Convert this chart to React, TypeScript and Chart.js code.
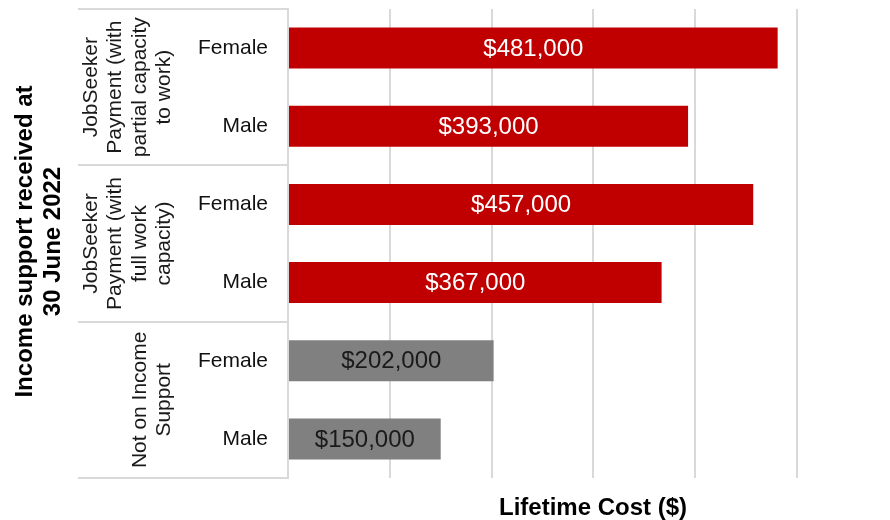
import React, { useEffect, useRef } from "react";
import { Chart, registerables } from "chart.js";

Chart.register(...registerables);

const categories = ["Female", "Male", "Female", "Male", "Female", "Male"];
const values = [481000, 393000, 457000, 367000, 202000, 150000];
const barGroup = [0, 0, 1, 1, 2, 2];
const groupLines = [
  ["JobSeeker", "Payment (with", "partial capacity", "to work)"],
  ["JobSeeker", "Payment (with", "full work", "capacity)"],
  ["Not on Income", "Support"],
];
const yTitleLines = ["Income support received at", "30 June 2022"];
const xTitle = "Lifetime Cost ($)";
const xMax = 500000;
const xStep = 100000;

const FONT = '"Liberation Sans", Arial, Helvetica, sans-serif';
const RED = "#C00000";
const GRAY = "#808080";
const GRID = "#d9d9d9";

const fmt = (v: number) => "$" + v.toLocaleString("en-US");

const customText = {
  id: "customText",
  afterDatasetsDraw(chart: any) {
    const ctx = chart.ctx;
    const meta = chart.getDatasetMeta(0);
    ctx.save();
    ctx.font = `24px ${FONT}`;
    ctx.textAlign = "center";
    ctx.textBaseline = "middle";
    meta.data.forEach((bar: any, i: number) => {
      const cx = (bar.x + bar.base) / 2;
      ctx.fillStyle = barGroup[i] === 2 ? "#1a1a1a" : "#ffffff";
      ctx.fillText(fmt(values[i]), cx, bar.y + 1);
    });
    ctx.restore();
  },
  afterDraw(chart: any) {
    const ctx = chart.ctx;
    const area = chart.chartArea;
    const yScale = chart.scales.y;
    const n = categories.length;
    const catH = (area.bottom - area.top) / n;
    ctx.save();
    ctx.strokeStyle = GRID;
    ctx.lineWidth = 2;
    const nGroups = groupLines.length;
    for (let g = 0; g <= nGroups; g++) {
      let count = 0;
      for (let i = 0; i < n; i++) {
        if (barGroup[i] < g) count++;
      }
      const y = Math.round(area.top + count * catH);
      ctx.beginPath();
      ctx.moveTo(78, y);
      ctx.lineTo(area.left, y);
      ctx.stroke();
    }
    ctx.fillStyle = "#1a1a1a";
    ctx.font = `21px ${FONT}`;
    ctx.textAlign = "center";
    ctx.textBaseline = "alphabetic";
    groupLines.forEach((lines, g) => {
      const idxs = barGroup.map((b, i) => (b === g ? i : -1)).filter((i) => i >= 0);
      const y0 = yScale.getPixelForValue(idxs[0]);
      const y1 = yScale.getPixelForValue(idxs[idxs.length - 1]);
      const cy = (y0 + y1) / 2;
      lines.forEach((line, li) => {
        const bx = 170 - (lines.length - 1 - li) * 24.5;
        ctx.save();
        ctx.translate(bx, cy);
        ctx.rotate(-Math.PI / 2);
        ctx.fillText(line, 0, 0);
        ctx.restore();
      });
    });
    ctx.fillStyle = "#000000";
    ctx.font = `bold 24px ${FONT}`;
    const ty = (area.top + area.bottom) / 2 - 2;
    yTitleLines.forEach((line, li) => {
      ctx.save();
      ctx.translate(32 + li * 28, ty);
      ctx.rotate(-Math.PI / 2);
      ctx.fillText(line, 0, 0);
      ctx.restore();
    });
    ctx.textAlign = "center";
    ctx.fillText(xTitle, 593, 515);
    ctx.restore();
  },
};

export default function App() {
  const ref = useRef<HTMLCanvasElement | null>(null);
  useEffect(() => {
    document.body.style.margin = "0";
    if (!ref.current) return;
    const chart = new Chart(ref.current, {
      type: "bar",
      data: {
        labels: categories,
        datasets: [
          {
            data: values,
            backgroundColor: barGroup.map((g) => (g === 2 ? GRAY : RED)),
            borderWidth: 0,
            barPercentage: 0.525,
            categoryPercentage: 1,
          },
        ],
      },
      options: {
        indexAxis: "y",
        responsive: false,
        animation: false,
        layout: { padding: { top: 9, right: 93, bottom: 42, left: 0 } },
        plugins: {
          legend: { display: false },
          tooltip: { enabled: false },
          title: { display: false },
        },
        scales: {
          x: {
            min: 0,
            max: xMax,
            ticks: { display: false, stepSize: xStep },
            grid: { color: GRID, lineWidth: 2, drawTicks: false },
            border: { display: false },
            afterFit: (s: any) => {
              s.height = 0;
              s.paddingLeft = 0;
              s.paddingRight = 0;
            },
          },
          y: {
            ticks: {
              color: "#111111",
              font: { family: FONT, size: 21 },
              padding: 20,
            },
            grid: { display: false, drawTicks: false },
            border: { display: true, color: GRID, width: 2 },
            afterFit: (s: any) => {
              s.width = 288;
              s.paddingTop = 0;
              s.paddingBottom = 0;
            },
          },
        },
      } as any,
      plugins: [customText],
    });
    return () => chart.destroy();
  }, []);
  return (
    <div style={{ width: 890, height: 520 }}>
      <canvas ref={ref} width={890} height={520} style={{ display: "block" }} />
    </div>
  );
}
